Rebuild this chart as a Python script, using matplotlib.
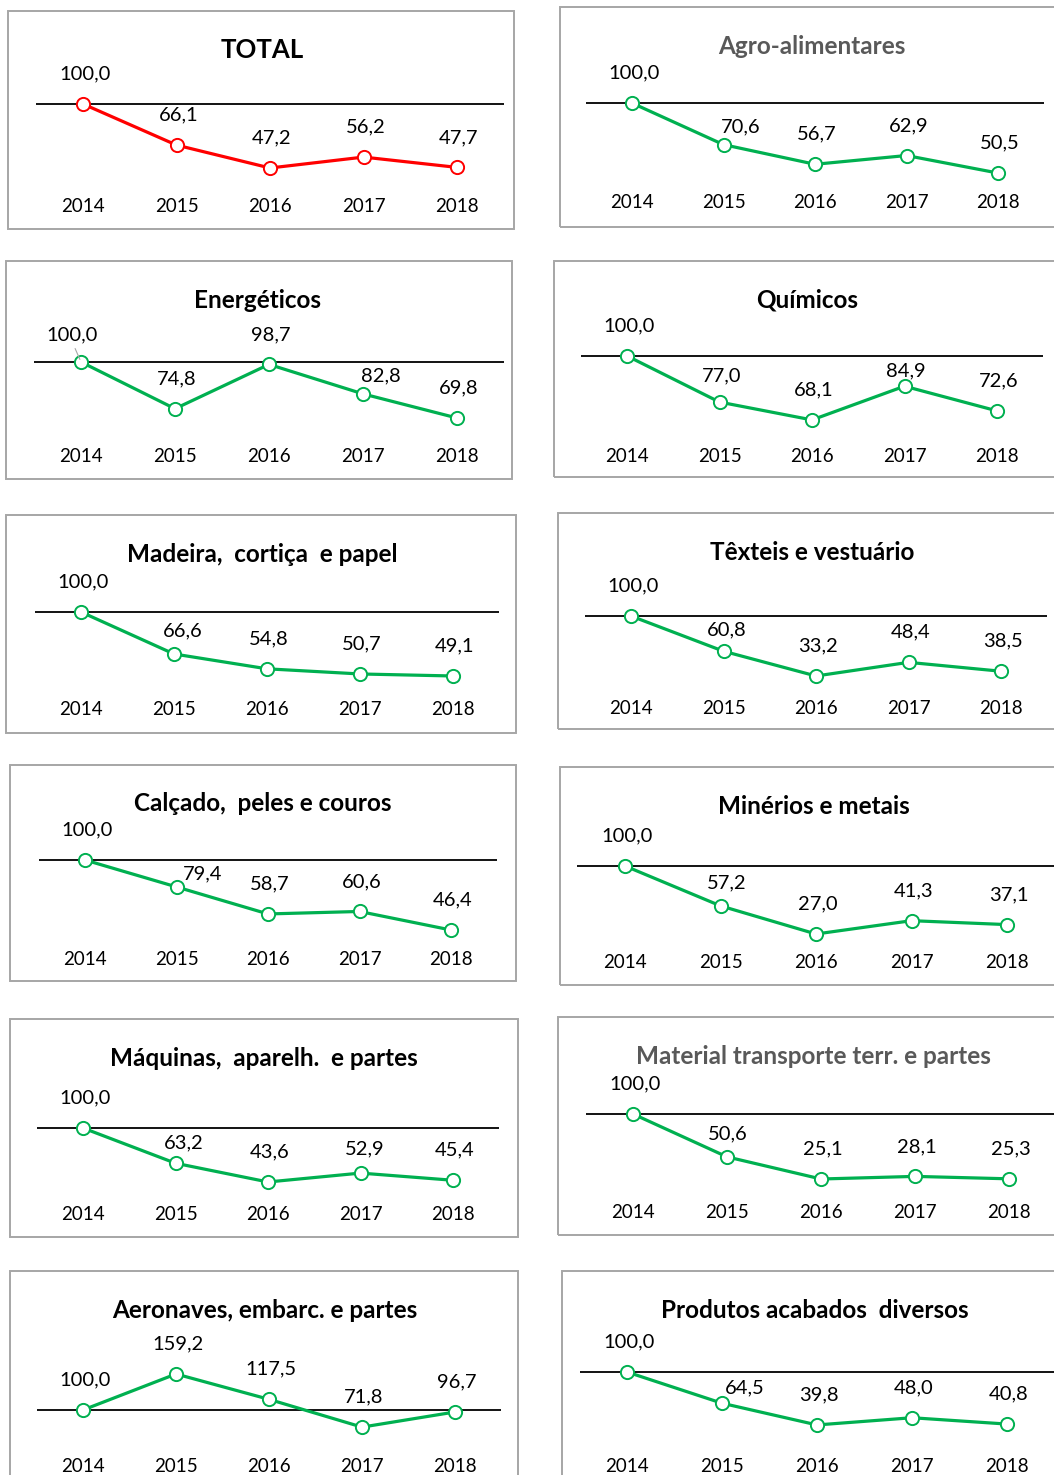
import matplotlib
matplotlib.use("Agg")
import matplotlib.pyplot as plt
from matplotlib.patches import Rectangle
from matplotlib.transforms import blended_transform_factory

plt.rcParams['font.family'] = ['Lato', 'DejaVu Sans']

years = ["2014", "2015", "2016", "2017", "2018"]

titles = ["TOTAL", "Agro-alimentares", "Energéticos", "Químicos",
          "Madeira,  cortiça  e papel", "Têxteis e vestuário",
          "Calçado,  peles e couros", "Minérios e metais",
          "Máquinas,  aparelh.  e partes", "Material transporte terr. e partes",
          "Aeronaves, embarc. e partes", "Produtos acabados  diversos"]

total = [100.0, 66.1, 47.2, 56.2, 47.7]
agro = [100.0, 70.6, 56.7, 62.9, 50.5]
energeticos = [100.0, 74.8, 98.7, 82.8, 69.8]
quimicos = [100.0, 77.0, 68.1, 84.9, 72.6]
madeira = [100.0, 66.6, 54.8, 50.7, 49.1]
texteis = [100.0, 60.8, 33.2, 48.4, 38.5]
calcado = [100.0, 79.4, 58.7, 60.6, 46.4]
minerios = [100.0, 57.2, 27.0, 41.3, 37.1]
maquinas = [100.0, 63.2, 43.6, 52.9, 45.4]
material = [100.0, 50.6, 25.1, 28.1, 25.3]
aeronaves = [100.0, 159.2, 117.5, 71.8, 96.7]
produtos = [100.0, 64.5, 39.8, 48.0, 40.8]

series = [total, agro, energeticos, quimicos, madeira, texteis,
          calcado, minerios, maquinas, material, aeronaves, produtos]

# y scale of each small chart (like Excel's own axis per panel)
ylims = [(24.1, 127.2), (37.1, 125.5), (54.7, 122.1), (55.1, 117.4),
         (30.0, 129.4), (8.7, 147.9), (31.1, 126.8), (7.7, 141.8),
         (20.6, 151.2), (-1.4, 142.6), (24.3, 229.9), (4.5, 146.6)]

# layout in pixels: box (left, top, right, bottom), first/last point x, title x
boxes = [(8, 11, 514, 229), (560, 7, 1060, 227),
         (6, 261, 512, 479), (554, 261, 1060, 477),
         (6, 515, 516, 733), (558, 513, 1060, 729),
         (10, 765, 516, 981), (560, 767, 1060, 985),
         (10, 1019, 518, 1237), (558, 1017, 1060, 1235),
         (10, 1271, 518, 1485), (562, 1271, 1060, 1485)]
point_x = [(83, 457), (632, 998), (81, 457), (627, 997), (81, 453), (631, 1001),
           (85, 451), (625, 1007), (83, 453), (633, 1009), (83, 455), (627, 1007)]
title_x = [262, 812, 258, 807, 262, 812, 263, 814, 264, 813, 265, 815]

# label nudges (dx, dy above point) in pixels where Excel placement differs
label_nudge = {(1, 1): (17, 18), (2, 0): (-9, 27), (2, 3): (18, 18),
               (3, 1): (2, 26), (3, 3): (1, 15), (4, 1): (9, 23),
               (5, 1): (3, 21), (6, 1): (26, 13), (7, 1): (6, 23),
               (8, 1): (8, 20), (8, 3): (4, 24), (9, 1): (1, 23),
               (11, 1): (23, 15)}

W, H = 1054, 1475
fig = plt.figure(figsize=(W / 100, H / 100), dpi=100)
fig.patch.set_facecolor("white")

green = "#00B050"
red = "#FF0000"

for i, vals in enumerate(series):
    l, t, r, b = boxes[i]
    fig.add_artist(Rectangle((l / W, 1 - b / H), (r - l) / W, (b - t) / H,
                             transform=fig.transFigure, fill=False,
                             edgecolor="#A6A6A6", linewidth=1.4))
    x0, x4 = point_x[i]
    sp = (x4 - x0) / 4
    ax_top = t + 60
    ax_bot = t + 185
    ax = fig.add_axes([(x0 - sp / 2) / W, 1 - ax_bot / H, (4 * sp + sp) / W, (ax_bot - ax_top) / H])
    ax.set_xlim(-0.5, 4.5)
    ax.set_ylim(*ylims[i])
    ax.axis("off")
    color = red if i == 0 else green
    xs = range(len(years))
    ax.axhline(100, color="black", linewidth=1.3, zorder=1)
    ax.plot(xs, vals, color=color, linewidth=2.3, marker="o", markersize=9.5,
            markerfacecolor="white", markeredgecolor=color, markeredgewidth=1.4,
            zorder=3, clip_on=False)
    for j, v in enumerate(vals):
        dx, dy = label_nudge.get((i, j), (2, 30))
        ax.annotate(f"{v:.1f}".replace(".", ","), (j, v), xytext=(dx, dy),
                    textcoords="offset pixels", ha="center", va="center",
                    fontsize=14.5, color="black", annotation_clip=False)
    if i == 2:
        # small leader line of the moved first label
        ax.annotate("", (0, 100), xytext=(-7, 16), textcoords="offset pixels",
                    arrowprops=dict(arrowstyle="-", color="#A6A6A6", lw=0.8))
    tr = blended_transform_factory(ax.transData, fig.transFigure)
    for j, yr in enumerate(years):
        ax.text(j, 1 - (t + 195) / H, yr, transform=tr, ha="center", va="center",
                fontsize=13.5, color="black")
    tcolor = "#595959" if i in (1, 9) else "black"
    tsize = 18.5 if i == 0 else 17.5
    fig.text(title_x[i] / W, 1 - (t + 39) / H, titles[i], ha="center", va="center",
             fontsize=tsize, fontweight="bold", color=tcolor)

fig.savefig("out.png", dpi=100)
